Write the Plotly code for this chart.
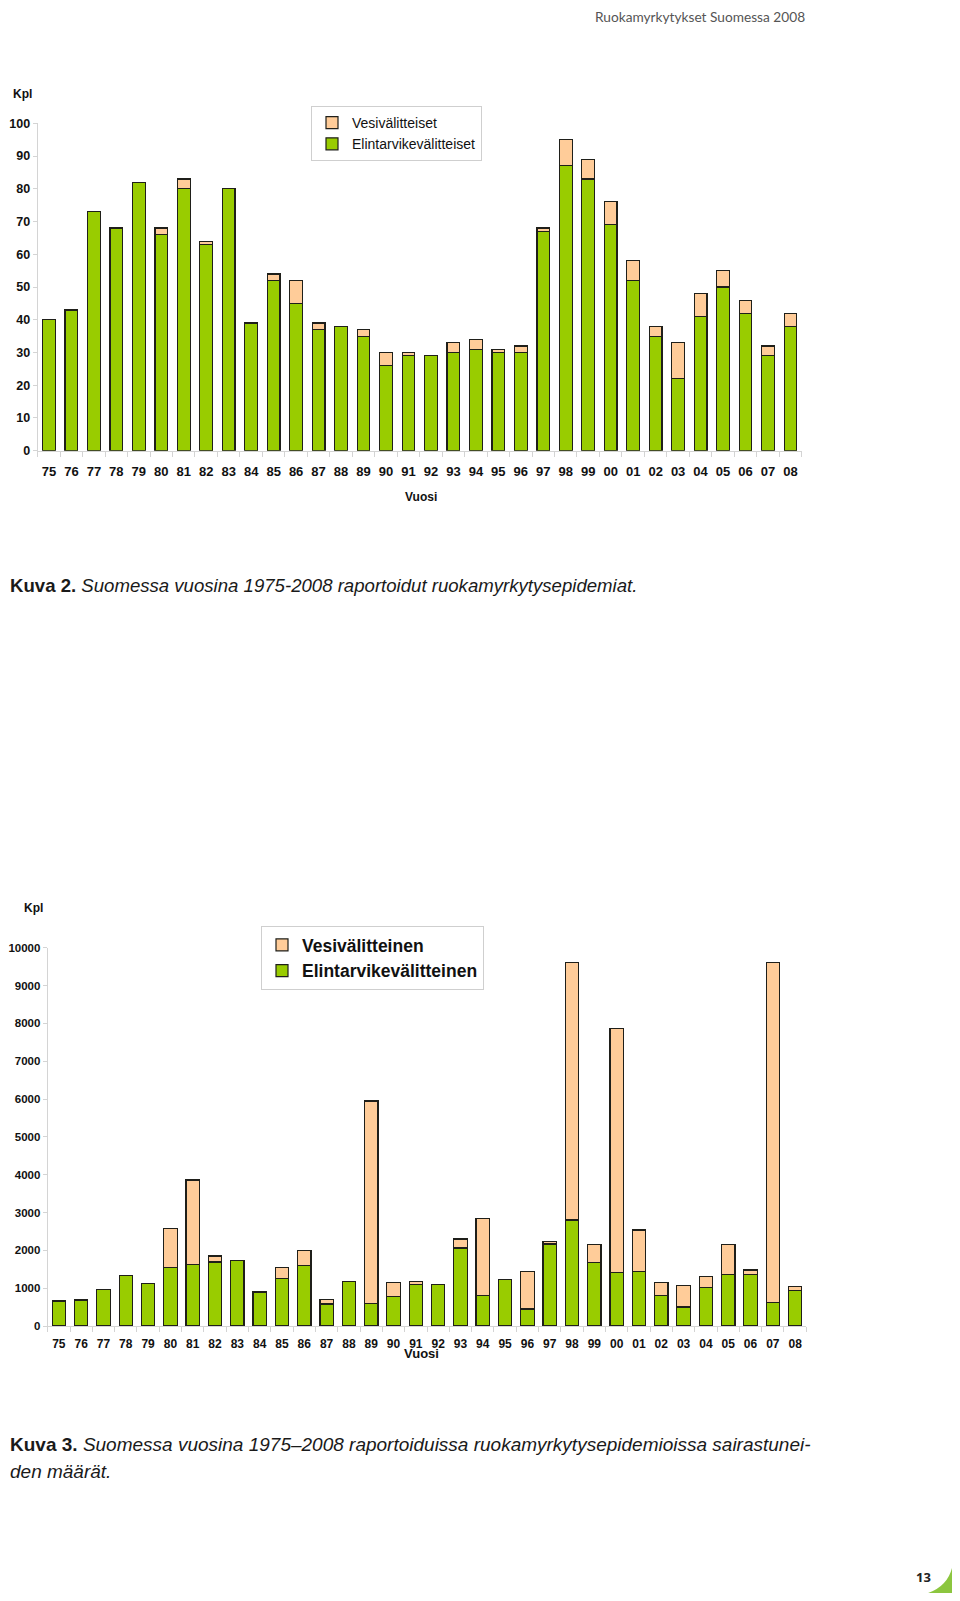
import plotly.graph_objects as go

# ---------------- data ----------------
years = ["75", "76", "77", "78", "79", "80", "81", "82", "83", "84", "85", "86",
         "87", "88", "89", "90", "91", "92", "93", "94", "95", "96", "97", "98",
         "99", "00", "01", "02", "03", "04", "05", "06", "07", "08"]

# Kuva 2: number of outbreaks
epid_elintarvike = [40, 43, 73, 68, 82, 66, 80, 63, 80, 39, 52, 45, 37, 38, 35, 26, 29,
                    29, 30, 31, 30, 30, 67, 87, 83, 69, 52, 35, 22, 41, 50, 42, 29, 38]
epid_vesi = [0, 0, 0, 0, 0, 2, 3, 1, 0, 0, 2, 7, 2, 0, 2, 4, 1,
             0, 3, 3, 1, 2, 1, 8, 6, 7, 6, 3, 11, 7, 5, 4, 3, 4]

# Kuva 3: number of people taken ill
sair_elintarvike = [660, 690, 960, 1330, 1120, 1540, 1620, 1690, 1730, 900, 1260, 1600,
                    580, 1180, 600, 780, 1100, 1090, 2060, 810, 1230, 450, 2170, 2800,
                    1670, 1420, 1450, 810, 500, 1020, 1360, 1370, 630, 930]
sair_vesi = [0, 0, 0, 0, 0, 1040, 2240, 160, 0, 0, 290, 400,
             120, 0, 5350, 370, 80, 0, 240, 2030, 0, 1000, 70, 6810,
             490, 6440, 1090, 340, 580, 280, 790, 110, 8980, 120]

y1_ticks = [0, 10, 20, 30, 40, 50, 60, 70, 80, 90, 100]
y2_ticks = [0, 1000, 2000, 3000, 4000, 5000, 6000, 7000, 8000, 9000, 10000]

# ---------------- styling ----------------
PAGE_W, PAGE_H = 960, 1601
OFF = 8                      # default body margin of the html page
W, H = PAGE_W - 2 * OFF, PAGE_H - 2 * OFF
GREEN = "#99cc00"
PEACH = "#ffcc99"
OUTLINE = "#1f1f1a"
AXIS_GRAY = "#d4d4d4"
FONT = "Liberation Sans, Arial, sans-serif"


def X(px):
    return (px - OFF) / W


def Y(py):
    return 1 - (py - OFF) / H


def nz(vals):
    # zero-height segments are not drawn
    return [v if v else None for v in vals]


fig = go.Figure()

bar_w1 = 0.565
bar_w2 = 0.6
line = dict(color=OUTLINE, width=1.2)

fig.add_trace(go.Bar(x=years, y=nz(epid_elintarvike), name="Elintarvikevälitteiset",
                     marker=dict(color=GREEN, line=line),
                     width=bar_w1, xaxis="x", yaxis="y", legend="legend",
                     legendgroup="a1"))
fig.add_trace(go.Bar(x=years, y=nz(epid_vesi), name="Vesivälitteiset",
                     marker=dict(color=PEACH, line=line),
                     width=bar_w1, xaxis="x", yaxis="y", legend="legend",
                     legendgroup="b1"))

fig.add_trace(go.Bar(x=years, y=nz(sair_elintarvike), name="Elintarvikevälitteinen",
                     marker=dict(color=GREEN, line=line),
                     width=bar_w2, xaxis="x2", yaxis="y2", legend="legend2",
                     legendgroup="a2"))
fig.add_trace(go.Bar(x=years, y=nz(sair_vesi), name="Vesivälitteinen",
                     marker=dict(color=PEACH, line=line),
                     width=bar_w2, xaxis="x2", yaxis="y2", legend="legend2",
                     legendgroup="b2"))

xaxis_common = dict(type="category", categoryorder="array", categoryarray=years,
                    showline=True, linecolor=AXIS_GRAY, linewidth=1,
                    ticks="outside", tickson="boundaries", ticklen=5,
                    tickcolor=AXIS_GRAY, showgrid=False, zeroline=False,
                    tickangle=0, automargin=False,
                    range=[-0.5, len(years) - 0.5], fixedrange=True)
yaxis_common = dict(showline=True, linecolor=AXIS_GRAY, linewidth=1,
                    ticks="outside", ticklen=4, tickcolor=AXIS_GRAY,
                    showgrid=False, zeroline=False, fixedrange=True,
                    automargin=False, tickformat="d", ticklabelstandoff=0)

fig.update_layout(
    width=W, height=H,
    margin=dict(l=0, r=0, t=0, b=0, autoexpand=False),
    paper_bgcolor="white", plot_bgcolor="white",
    barmode="stack",
    showlegend=True,
    xaxis=dict(domain=[X(37.7), X(801.7)], anchor="y",
               tickfont=dict(family=FONT, size=13, color="#111", weight="bold"),
               ticklabelstandoff=9, **xaxis_common),
    yaxis=dict(domain=[Y(450.7), Y(123.3)], anchor="x", range=[0, 100],
               tickvals=y1_ticks,
               tickfont=dict(family=FONT, size=12.5, color="#111", weight="bold"),
               **yaxis_common),
    xaxis2=dict(domain=[X(47.7), X(806.3)], anchor="y2",
                tickfont=dict(family=FONT, size=12, color="#111", weight="bold"),
                ticklabelstandoff=7, **xaxis_common),
    yaxis2=dict(domain=[Y(1326), Y(947.7)], anchor="x2", range=[0, 10000],
                tickvals=y2_ticks,
                tickfont=dict(family=FONT, size=11.5, color="#111", weight="bold"),
                **yaxis_common),
    legend=dict(x=X(311), y=Y(106), xanchor="left", yanchor="top",
                bgcolor="white", bordercolor="#cfcfcf", borderwidth=1,
                font=dict(family=FONT, size=14, color="#111"),
                traceorder="reversed", tracegroupgap=5, itemwidth=30),
    legend2=dict(x=X(261), y=Y(926), xanchor="left", yanchor="top",
                 bgcolor="white", bordercolor="#cfcfcf", borderwidth=1,
                 font=dict(family=FONT, size=17.5, color="#111", weight="bold"),
                 traceorder="reversed", tracegroupgap=4, itemwidth=30),
)

annotations = [
    # header
    dict(text="Ruokamyrkytykset Suomessa 2008", x=X(807), y=Y(16.5),
         xanchor="right", yanchor="middle",
         font=dict(family="Lato, Open Sans, sans-serif", size=13.7, color="#555")),
    # chart 1 labels
    dict(text="<b>Kpl</b>", x=X(22), y=Y(94), xanchor="center", yanchor="middle",
         font=dict(family=FONT, size=12, color="#111")),
    dict(text="<b>Vuosi</b>", x=X(421), y=Y(497), xanchor="center", yanchor="middle",
         font=dict(family=FONT, size=12, color="#111")),
    # caption 2
    dict(text="<b>Kuva 2.</b> <i>Suomessa vuosina 1975-2008 raportoidut ruokamyrkytysepidemiat.</i>",
         x=X(8), y=Y(585), xanchor="left", yanchor="middle",
         font=dict(family=FONT, size=18.6, color="#1a1a1a")),
    # chart 2 labels
    dict(text="<b>Kpl</b>", x=X(33), y=Y(908), xanchor="center", yanchor="middle",
         font=dict(family=FONT, size=12, color="#111")),
    dict(text="<b>Vuosi</b>", x=X(421), y=Y(1353), xanchor="center", yanchor="middle",
         font=dict(family=FONT, size=13, color="#111")),
    # caption 3
    dict(text="<b>Kuva 3.</b> <i>Suomessa vuosina 1975–2008 raportoiduissa ruokamyrkytysepidemioissa sairastunei-</i>",
         x=X(8), y=Y(1444), xanchor="left", yanchor="middle",
         font=dict(family=FONT, size=19.0, color="#1a1a1a")),
    dict(text="<i>den määrät.</i>",
         x=X(8), y=Y(1471), xanchor="left", yanchor="middle",
         font=dict(family=FONT, size=19.0, color="#1a1a1a")),
    # page number
    dict(text="<b>13</b>", x=X(923), y=Y(1577), xanchor="center", yanchor="middle",
         font=dict(family="Open Sans, sans-serif", size=13, color="#222")),
]
for a in annotations:
    a.update(xref="paper", yref="paper", showarrow=False)
fig.update_layout(annotations=annotations)

# page corner decoration
path = (f"M {X(906)},{Y(1597)} Q {X(945)},{Y(1595)} {X(952)},{Y(1568)} "
        f"L {X(952)},{Y(1597)} Z")
fig.add_shape(type="path", path=path, xref="paper", yref="paper",
              fillcolor="#8cc63f", line=dict(width=0))

fig.write_html("out.html")
